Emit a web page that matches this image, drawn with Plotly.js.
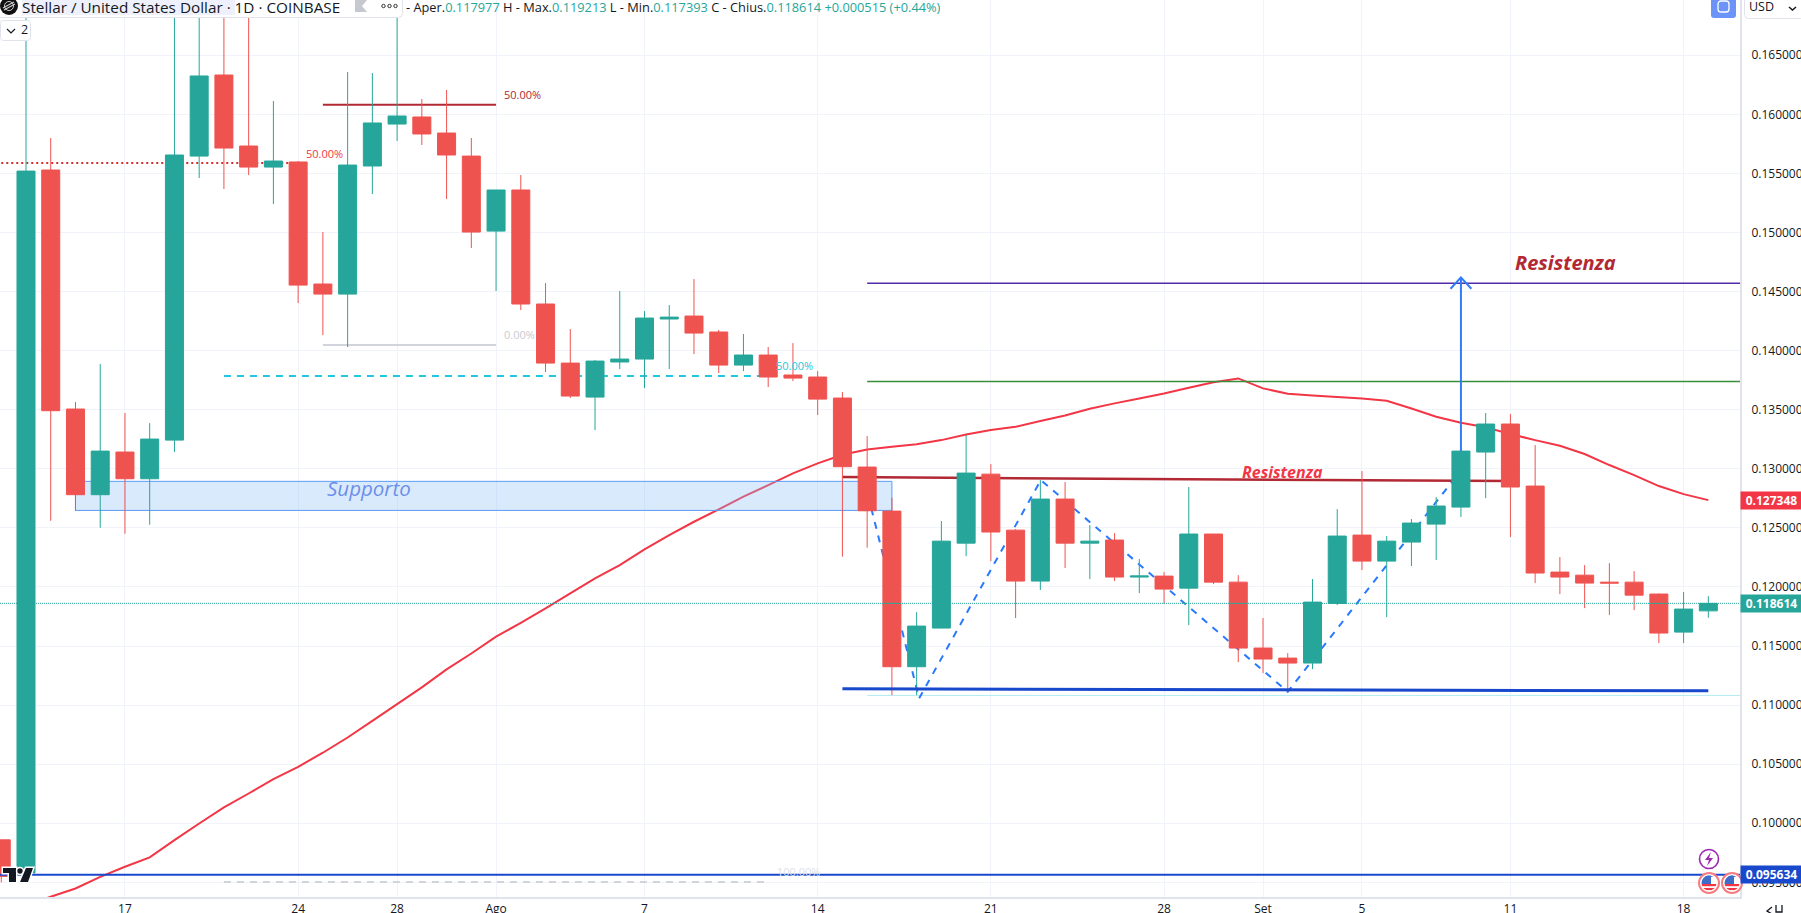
<!DOCTYPE html>
<html><head><meta charset="utf-8">
<script src="https://cdn.plot.ly/plotly-3.0.1.min.js"></script>
<style>html,body{margin:0;padding:0;background:#fff;overflow:hidden}#c{width:1801px;height:913px}</style>
</head><body><div id="c"></div>
<script>
const dates = ['2023-07-12','2023-07-13','2023-07-14','2023-07-15','2023-07-16','2023-07-17','2023-07-18','2023-07-19','2023-07-20','2023-07-21','2023-07-22','2023-07-23','2023-07-24','2023-07-25','2023-07-26','2023-07-27','2023-07-28','2023-07-29','2023-07-30','2023-07-31',
'2023-08-01','2023-08-02','2023-08-03','2023-08-04','2023-08-05','2023-08-06','2023-08-07','2023-08-08','2023-08-09','2023-08-10','2023-08-11','2023-08-12','2023-08-13','2023-08-14','2023-08-15','2023-08-16','2023-08-17','2023-08-18','2023-08-19','2023-08-20','2023-08-21','2023-08-22','2023-08-23','2023-08-24','2023-08-25','2023-08-26','2023-08-27','2023-08-28','2023-08-29','2023-08-30','2023-08-31',
'2023-09-01','2023-09-02','2023-09-03','2023-09-04','2023-09-05','2023-09-06','2023-09-07','2023-09-08','2023-09-09','2023-09-10','2023-09-11','2023-09-12','2023-09-13','2023-09-14','2023-09-15','2023-09-16','2023-09-17','2023-09-18','2023-09-19'];
const opens = [.0986,.0958,.15529,.13506,.12781,.13142,.12916,.13243,.15647,.16333,.15732,.15554,.15597,.14564,.14479,.15563,.15918,.15978,.15842,.15647,.15012,.15360,.14395,.13895,.13607,.13904,.13929,.14268,.14293,.14158,.13878,.13963,.13794,.13777,.13599,.13015,.12642,.11325,.11652,.12371,.12955,.12481,.12050,.12744,.12371,.12397,.12084,.12092,.11990,.12448,.12041,.11483,.11398,.11356,.11861,.12439,.12219,.12380,.12532,.12676,.13142,.13379,.12854,.12126,.12100,.12041,.12041,.11940,.11618,.117977];
const highs = [.0986,.1800,.15800,.13565,.13887,.13472,.13387,.1750,.1750,.1750,.1750,.16113,.15605,.15004,.16358,.16350,.1750,.16130,.16206,.15800,.15360,.15487,.14572,.14183,.13921,.14505,.14335,.14386,.14606,.14175,.14141,.14031,.14064,.13827,.13650,.13277,.12755,.11787,.12558,.13286,.13040,.12490,.12905,.12888,.12524,.12456,.12236,.12126,.12846,.12448,.12100,.11737,.11440,.12067,.12659,.12981,.12431,.12575,.12761,.13150,.13472,.13464,.13201,.12253,.12185,.12202,.12134,.11945,.11957,.119213];
const lows = [.0950,.0950,.12560,.12645,.12501,.12451,.12527,.13142,.15461,.15368,.15487,.15241,.14403,.14132,.14031,.15326,.15774,.15741,.15283,.14869,.14505,.14344,.13819,.13599,.13328,.13844,.13683,.13844,.13971,.13810,.13827,.13692,.13743,.13455,.12256,.12332,.11085,.11085,.11652,.12261,.12219,.11737,.11974,.12160,.12067,.12050,.11948,.11855,.11677,.12024,.11364,.11271,.11110,.11305,.11847,.12143,.11745,.12177,.12228,.12592,.12752,.12422,.12033,.11940,.11821,.11762,.11804,.11525,.11525,.117393];
const closes = [.0955,.15520,.13492,.12781,.13150,.12916,.13252,.15656,.16325,.15715,.15554,.15605,.14555,.14479,.15571,.15927,.15986,.15834,.15656,.15004,.15360,.14395,.13895,.13616,.13912,.13929,.14276,.14284,.14149,.13878,.13963,.13777,.13768,.13590,.13018,.12645,.11325,.11669,.12388,.12964,.12465,.12050,.12744,.12371,.12388,.12084,.12093,.11982,.12448,.12041,.11483,.11390,.11356,.11872,.12431,.12219,.12388,.12541,.12685,.13150,.13379,.12846,.12118,.12084,.12033,.12033,.11931,.11610,.11813,.118614];
const maDates = dates.slice(1);
const maValues = [.09307,.09378,.09448,.09547,.09632,.09711,.09857,.09998,.10134,.10252,.10374,.10478,.10597,.10726,.10867,.11009,.11150,.11302,.11437,.11579,.11697,.11818,.11945,.12072,.12185,.12318,.12439,.12552,.12656,.12764,.12862,.12961,.13046,.13119,.13164,.13187,.13207,.13243,.13291,.13328,.13356,.13404,.13452,.13509,.13554,.13596,.13638,.13686,.13732,.13765,.13681,.13636,.13621,.13607,.13596,.13576,.13511,.13441,.13390,.13351,.13294,.13243,.13195,.13125,.13032,.12947,.12854,.12786,.12735];

const xRange = ['2023-07-11 22:47','2023-09-20 06:43'];
const yRange = [.09376,.16968];
const priceTicks = [.095,.100,.105,.110,.115,.120,.125,.130,.135,.140,.145,.150,.155,.160,.165];
const priceTickLabels = ['0.095000','0.100000','0.105000','0.110000','0.115000','0.120000','0.125000','0.130000','0.135000','0.140000','0.145000','0.150000','0.155000','0.160000','0.165000'];
const dayTicks = ['2023-07-17','2023-07-24','2023-07-28','2023-08-01','2023-08-07','2023-08-14','2023-08-21','2023-08-28','2023-09-01','2023-09-05','2023-09-11','2023-09-18'];
const dayTickLabels = ['17','24','28','Ago','7','14','21','28','Set','5','11','18'];

const FONT = '"Open Sans", "Noto Sans", sans-serif';
const RED='#ef5350', GREEN='#26a69a';

function seg(xs, ys, color, width, dash, ax){
  return {type:'scatter',mode:'lines',x:xs,y:ys,line:{color:color,width:width,dash:dash||'solid',simplify:false},
    hoverinfo:'skip',showlegend:false,xaxis:ax?'x2':'x',yaxis:ax?'y2':'y',cliponaxis:true};
}
const traces = [
  seg(maDates,maValues,'#f23645',2),
  {type:'scatter',mode:'lines',x:['2023-07-15','2023-08-17','2023-08-17','2023-07-15','2023-07-15'],y:[.12894,.12894,.12648,.12648,.12894],
   fill:'toself',fillcolor:'rgba(144,191,249,0.33)',line:{color:'#5b9cf6',width:1},hoverinfo:'skip',showlegend:false},
  seg(['2023-07-12','2023-07-24'],[.15588,.15588],'#d32f2f',2,'2px,3px'),
  seg(['2023-07-25','2023-08-01'],[.16082,.16082],'#b22833',2),
  seg(['2023-07-25','2023-08-01'],[.14047,.14047],'#d1d4dc',2),
  seg(['2023-07-21','2023-08-12'],[.13785,.13785],'#22c7dd',2,'7px,6px'),
  seg(['2023-07-21','2023-08-12'],[.09502,.09502],'#d1d4dc',2,'7px,6px'),
  seg(['2023-08-16','2023-09-21'],[.14570,.14570],'#512da8',1.5),
  seg(['2023-08-16','2023-09-21'],[.13740,.13740],'#388e3c',1.5),
  seg(['2023-08-16','2023-09-21'],[.11082,.11082],'#b2ebf2',1),
  seg(['2023-08-15','2023-09-11'],[.12930,.12896],'#b22833',2.5),
  seg(['2023-08-16 04:00','2023-08-18 02:24','2023-08-23 00:30','2023-09-02','2023-09-08 19:12'],[.12665,.11057,.12905,.11113,.12933],'#2979ff',2,'7px,7px'),
  {type:'candlestick',x:dates,open:opens,high:highs,low:lows,close:closes,xaxis:'x2',yaxis:'y2',whiskerwidth:0,
   increasing:{line:{color:GREEN,width:1},fillcolor:GREEN},decreasing:{line:{color:RED,width:1},fillcolor:RED},hoverinfo:'skip',showlegend:false},
  seg(['2023-07-11 22:47','2023-09-20 06:43'],[.118614,.118614],'#26a69a',1,'1px,1px',1),
  seg(['2023-07-11 22:47','2023-09-20 06:43'],[.095634,.095634],'#1848cc',2,'solid',1),
  seg(['2023-08-15','2023-09-19'],[.11138,.11121],'#1848cc',3,'solid',1),
  seg(['2023-09-09','2023-09-09'],[.13150,.14620],'#2f7cf6',2,'solid',1),
  seg(['2023-09-08 13:55','2023-09-09','2023-09-09 10:05'],[.14524,.14620,.14524],'#2f7cf6',2,'solid',1)
];

const PW=1740, PH=897;
const px=x=>x/PW, py=y=>1-y/PH;
function note(text,x,y,color,size,extra){
  return Object.assign({text:text,xref:'paper',yref:'paper',x:px(x),y:py(y),xanchor:'left',yanchor:'middle',showarrow:false,borderpad:0,
    font:{family:FONT,size:size,color:color}},extra||{});
}
function tag(text,val,bg){
  return {text:'<b>'+text+'</b>',xref:'paper',yref:'y',x:1,y:val,xanchor:'left',yanchor:'middle',showarrow:false,width:61,height:17,align:'center',
    bgcolor:bg,borderpad:0,font:{family:FONT,size:12,color:'#ffffff'}};
}
const T='#131722',V='#26a69a';
const kv=(k,v)=>'<span style="color:'+T+'">'+k+'</span><span style="color:'+V+'">'+v+'</span>';
const annotations=[
  note('Stellar / United States Dollar · 1D · COINBASE',21,6.5,T,15.3),
  note(kv('- Aper.','0.117977')+kv(' H - Max.','0.119213')+kv(' L - Min.','0.117393')+kv(' C - Chius.','0.118614')+'<span style="color:'+V+'"> +0.000515 (+0.44%)</span>',405,6.5,T,12.8),
  note('2',20,30,T,12.5),
  note('USD',1748,7,T,12.5),
  note('50.00%',503,95,'#b22833',11),
  note('50.00%',305,153,'#f23645',11),
  note('0.00%',503,334,'#c8cbd3',11),
  note('50.00%',775,366,'#22c7dd',11),
  note('100.00%',776,871,'#dfe1e7',11),
  note('<b><i>Resistenza</i></b>',1514,262,'#b22833',20),
  note('<b><i>Resistenza</i></b>',1241,472,'#f23645',16),
  note('<i>Supporto</i>',326,488,'#6c8fe8',20.5),
  tag('0.127348',.127348,'#f23645'),
  tag('0.118614',.118614,'#26a69a'),
  tag('0.095634',.095634,'#1848cc')
];
function svg(s,w,h){return 'data:image/svg+xml;charset=utf-8,'+encodeURIComponent('<svg xmlns="http://www.w3.org/2000/svg" width="'+w+'" height="'+h+'" viewBox="0 0 '+w+' '+h+'">'+s+'</svg>');}
function img(s,x,y,w,h){return {source:svg(s,w,h),xref:'paper',yref:'paper',x:px(x),y:py(y),sizex:w/PW,sizey:h/PH,sizing:'stretch',xanchor:'left',yanchor:'top',layer:'above'};}
const flag='<circle cx="11" cy="11" r="10" fill="#fff" stroke="#f77c80" stroke-width="2"/><clipPath id="f"><circle cx="11" cy="11" r="7.5"/></clipPath><g clip-path="url(#f)"><rect x="2" y="12" width="18" height="2.2" fill="#f23645"/><rect x="2" y="16" width="18" height="2.2" fill="#f23645"/><rect x="2" y="2" width="18" height="3" fill="#5b7fd6"/><rect x="2" y="2" width="11" height="10" fill="#3d6cc9"/></g>';
const images=[
  img('<rect x="-3" y="-3" width="405.5" height="20.5" rx="4" fill="#fff" stroke="#e0e3eb"/><rect x="22" y="0" width="213" height="15" fill="#eef1fb"/>',0,0,404,18),
  img('<rect x="0.5" y="0.5" width="30" height="20" rx="3" fill="#fff" stroke="#e0e3eb"/>',0,20,31,21),
  img('<rect x="0.5" y="-3" width="60" height="21.5" rx="4" fill="#fff" stroke="#e0e3eb"/>',1744,0,57,19),
  img('<circle cx="9" cy="9" r="9" fill="#111"/><path d="M3 11 L14 5 M4 13 L15 7" stroke="#ccc" stroke-width="1.1"/><circle cx="9" cy="9" r="4.5" fill="none" stroke="#ccc" stroke-width="1"/>',0,-3,18,18),
  img('<path d="M0 0h12v12h-12z" fill="#c6c8d0"/><path d="M12 0 L7 6 L12 12z" fill="#fff"/>',355,0,12,12),
  img('<circle cx="2.5" cy="4" r="1.7" fill="none" stroke="#333" stroke-width="1"/><circle cx="8.5" cy="4" r="1.7" fill="none" stroke="#333" stroke-width="1"/><circle cx="14.5" cy="4" r="1.7" fill="none" stroke="#333" stroke-width="1"/>',381,2,17,8),
  img('<path d="M1 1 L5 5 L9 1" fill="none" stroke="#131722" stroke-width="1.2"/>',6,28,10,6),
  img('<path d="M1 1 L4.5 4 L8 1" fill="none" stroke="#131722" stroke-width="1.5"/>',1788,6,9,5),
  img('<rect width="25" height="21" y="-3" rx="3" fill="#6b93f8"/><rect x="7" y="1" width="11" height="11" rx="3" fill="none" stroke="#fff" stroke-width="1.3"/>',1711,0,25,18),
  img('<g transform="translate(2,2)" stroke="#fff" stroke-width="3" paint-order="stroke" fill="#131722"><path d="M0 0 H13 V14 H6 V5 H0z"/><circle cx="17" cy="3" r="2.7"/><path d="M23 0 H30 L25 14 H17z"/></g>',1,866,35,18),
  img('<circle cx="11" cy="11" r="9.5" fill="#fff" stroke="#9c27b0" stroke-width="1.6"/><path d="M13 4 L7 12 H11 L9 18 L15 10 H11z" fill="#9c27b0"/>',1698,848,22,22),
  img(flag,1698,872,22,22),
  img(flag,1721,872,22,22),
  img('<path d="M6 2 L1 6 L6 9 M10 0 V7 H16 V0" fill="none" stroke="#131722" stroke-width="1.3"/>',1766,905,17,9)
];
const axisX={type:'date',range:xRange,tickvals:dayTicks,ticktext:dayTickLabels,tickmode:'array',showgrid:true,gridcolor:'#f0f3fa',gridwidth:1,
  zeroline:false,showline:true,linecolor:'#e0e3eb',linewidth:2,ticks:'',tickfont:{family:FONT,size:12,color:T},ticklabelstandoff:0,rangeslider:{visible:false},fixedrange:true,layer:'below traces'};
const axisY={range:yRange,tickvals:priceTicks,ticktext:priceTickLabels,tickmode:'array',side:'right',showgrid:true,gridcolor:'#f0f3fa',gridwidth:1,
  zeroline:false,showline:true,linecolor:'#e0e3eb',linewidth:2,ticks:'',tickfont:{family:FONT,size:12,color:T},ticklabelstandoff:7,fixedrange:true};
const layout={width:1801,height:913,margin:{l:0,r:61,t:0,b:16,pad:0},paper_bgcolor:'#fff',plot_bgcolor:'#fff',showlegend:false,hovermode:false,dragmode:false,
  boxgap:0.272,boxgroupgap:0,font:{family:FONT},xaxis:axisX,yaxis:axisY,
  xaxis2:{type:'date',range:xRange,overlaying:'x',visible:false,rangeslider:{visible:false},fixedrange:true},
  yaxis2:{range:yRange,overlaying:'y',visible:false,fixedrange:true,side:'right'},
  annotations:annotations,images:images};
Plotly.newPlot('c',traces,layout,{displayModeBar:false,staticPlot:true});
</script></body></html>
